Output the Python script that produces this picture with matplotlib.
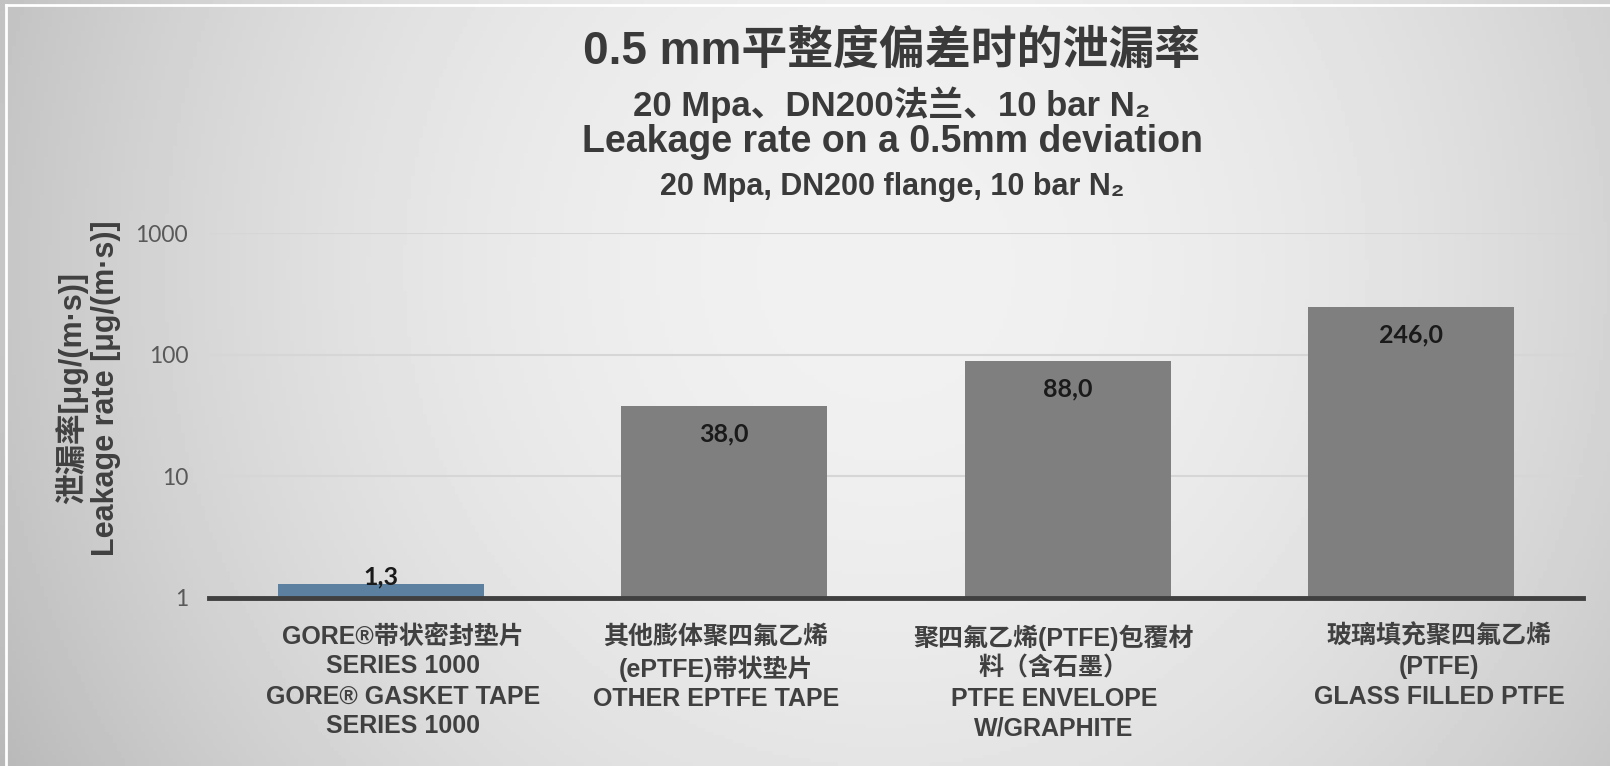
import matplotlib
matplotlib.use("Agg")
import matplotlib.pyplot as plt
from matplotlib.lines import Line2D
import numpy as np

# data
categories = [
    "GORE®带状密封垫片\nSERIES 1000\nGORE® GASKET TAPE\nSERIES 1000",
    "其他膨体聚四氟乙烯\n(ePTFE)带状垫片\nOTHER EPTFE TAPE",
    "聚四氟乙烯(PTFE)包覆材\n料（含石墨）\nPTFE ENVELOPE\nW/GRAPHITE",
    "玻璃填充聚四氟乙烯\n(PTFE)\nGLASS FILLED PTFE",
]
leak_rate = [1.3, 38.0, 88.0, 246.0]
bar_colors = ["#5b80a0", "#7f7f7f", "#7f7f7f", "#7f7f7f"]
y_ticks = [1, 10, 100, 1000]
title_lines = [
    "0.5 mm平整度偏差时的泄漏率",
    "20 Mpa、DN200法兰、10 bar N₂",
    "Leakage rate on a 0.5mm deviation",
    "20 Mpa, DN200 flange, 10 bar N₂",
]
y_label = "泄漏率[μg/(m·s)]\nLeakage rate [μg/(m·s)]"

W, H = 1610, 766
fam = ["Liberation Sans", "Noto Sans CJK SC", "DejaVu Sans"]
dark = "#404040"

fig = plt.figure(figsize=(W / 100, H / 100), dpi=100)

# grey gradient background, lighter in the middle
bg = fig.add_axes([0, 0, 1, 1], zorder=-10)
X, Y = np.meshgrid(np.linspace(0, 1, 400), np.linspace(0, 1, 200))
img = 0.945 - 0.17 * ((X - 0.55) / 0.55) ** 2 - 0.05 * ((Y - 0.35) / 0.65) ** 2
bg.imshow(img, cmap="gray", vmin=0, vmax=1, extent=[0, 1, 1, 0], aspect="auto")
bg.set_xlim(0, 1); bg.set_ylim(1, 0)
bg.axis("off")
fig.add_artist(Line2D([6 / W, 1], [1 - 5 / H, 1 - 5 / H], color="white", lw=2))
fig.add_artist(Line2D([6 / W, 6 / W], [0, 1 - 5 / H], color="white", lw=2))

ax = fig.add_axes([209 / W, 1 - 598 / H, (1583 - 209) / W, (598 - 233) / H])
ax.patch.set_alpha(0)
x = np.arange(len(categories))
bars = ax.bar(x, leak_rate, width=0.6, color=bar_colors, zorder=3)
ax.set_yscale("log")
ax.set_ylim(1, 1000)
ax.set_xlim(-0.5, len(categories) - 0.5)
ax.set_yticks(y_ticks)
ax.set_yticklabels([str(t) for t in y_ticks], family="Lato", fontsize=16.5, color="#595959")
ax.minorticks_off()
ax.tick_params(axis="y", length=0, pad=15)
ax.set_xticks([])
for t in y_ticks[1:]:
    ax.axhline(t, color="#d6d6d6", lw=1.5, zorder=1)
for s in ["top", "right", "left"]:
    ax.spines[s].set_visible(False)
ax.spines["bottom"].set_color(dark)
ax.spines["bottom"].set_linewidth(3.5)
ax.spines["bottom"].set_zorder(4)

# category labels under the bars (the reference has them slightly off-centre)
label_shift = [16, -6, -10, 20]  # points
for i, lab in enumerate(categories):
    ax.annotate(lab, (i, 0), xycoords=("data", "axes fraction"),
                xytext=(label_shift[i], -19), textcoords="offset points",
                ha="center", va="top", multialignment="center", family=fam,
                fontweight="bold", fontsize=18, color=dark, linespacing=1.31)

# value labels, decimal comma
for i, v in enumerate(leak_rate):
    txt = f"{v:.1f}".replace(".", ",")
    dy = 5 if i == 0 else -20
    ax.annotate(txt, (i, v), xytext=(0, dy), textcoords="offset points",
                ha="center", va="center", family="Lato", fontweight="bold",
                fontsize=18, color="#1a1a1a", zorder=5)

# title block
sizes = [33, 25, 27, 22]
baselines = [64, 116, 152, 195]
for line, s, b in zip(title_lines, sizes, baselines):
    fig.text(892 / W, 1 - b / H, line, ha="center", va="baseline", family=fam,
             fontweight="bold", fontsize=s, color="#3a3a3a")

fig.text(88 / W, 1 - 388 / H, y_label, rotation=90, ha="center", va="center",
         family=fam, fontweight="bold", fontsize=22, color=dark,
         multialignment="center", linespacing=1.1)

fig.savefig("out.png", dpi=100)
